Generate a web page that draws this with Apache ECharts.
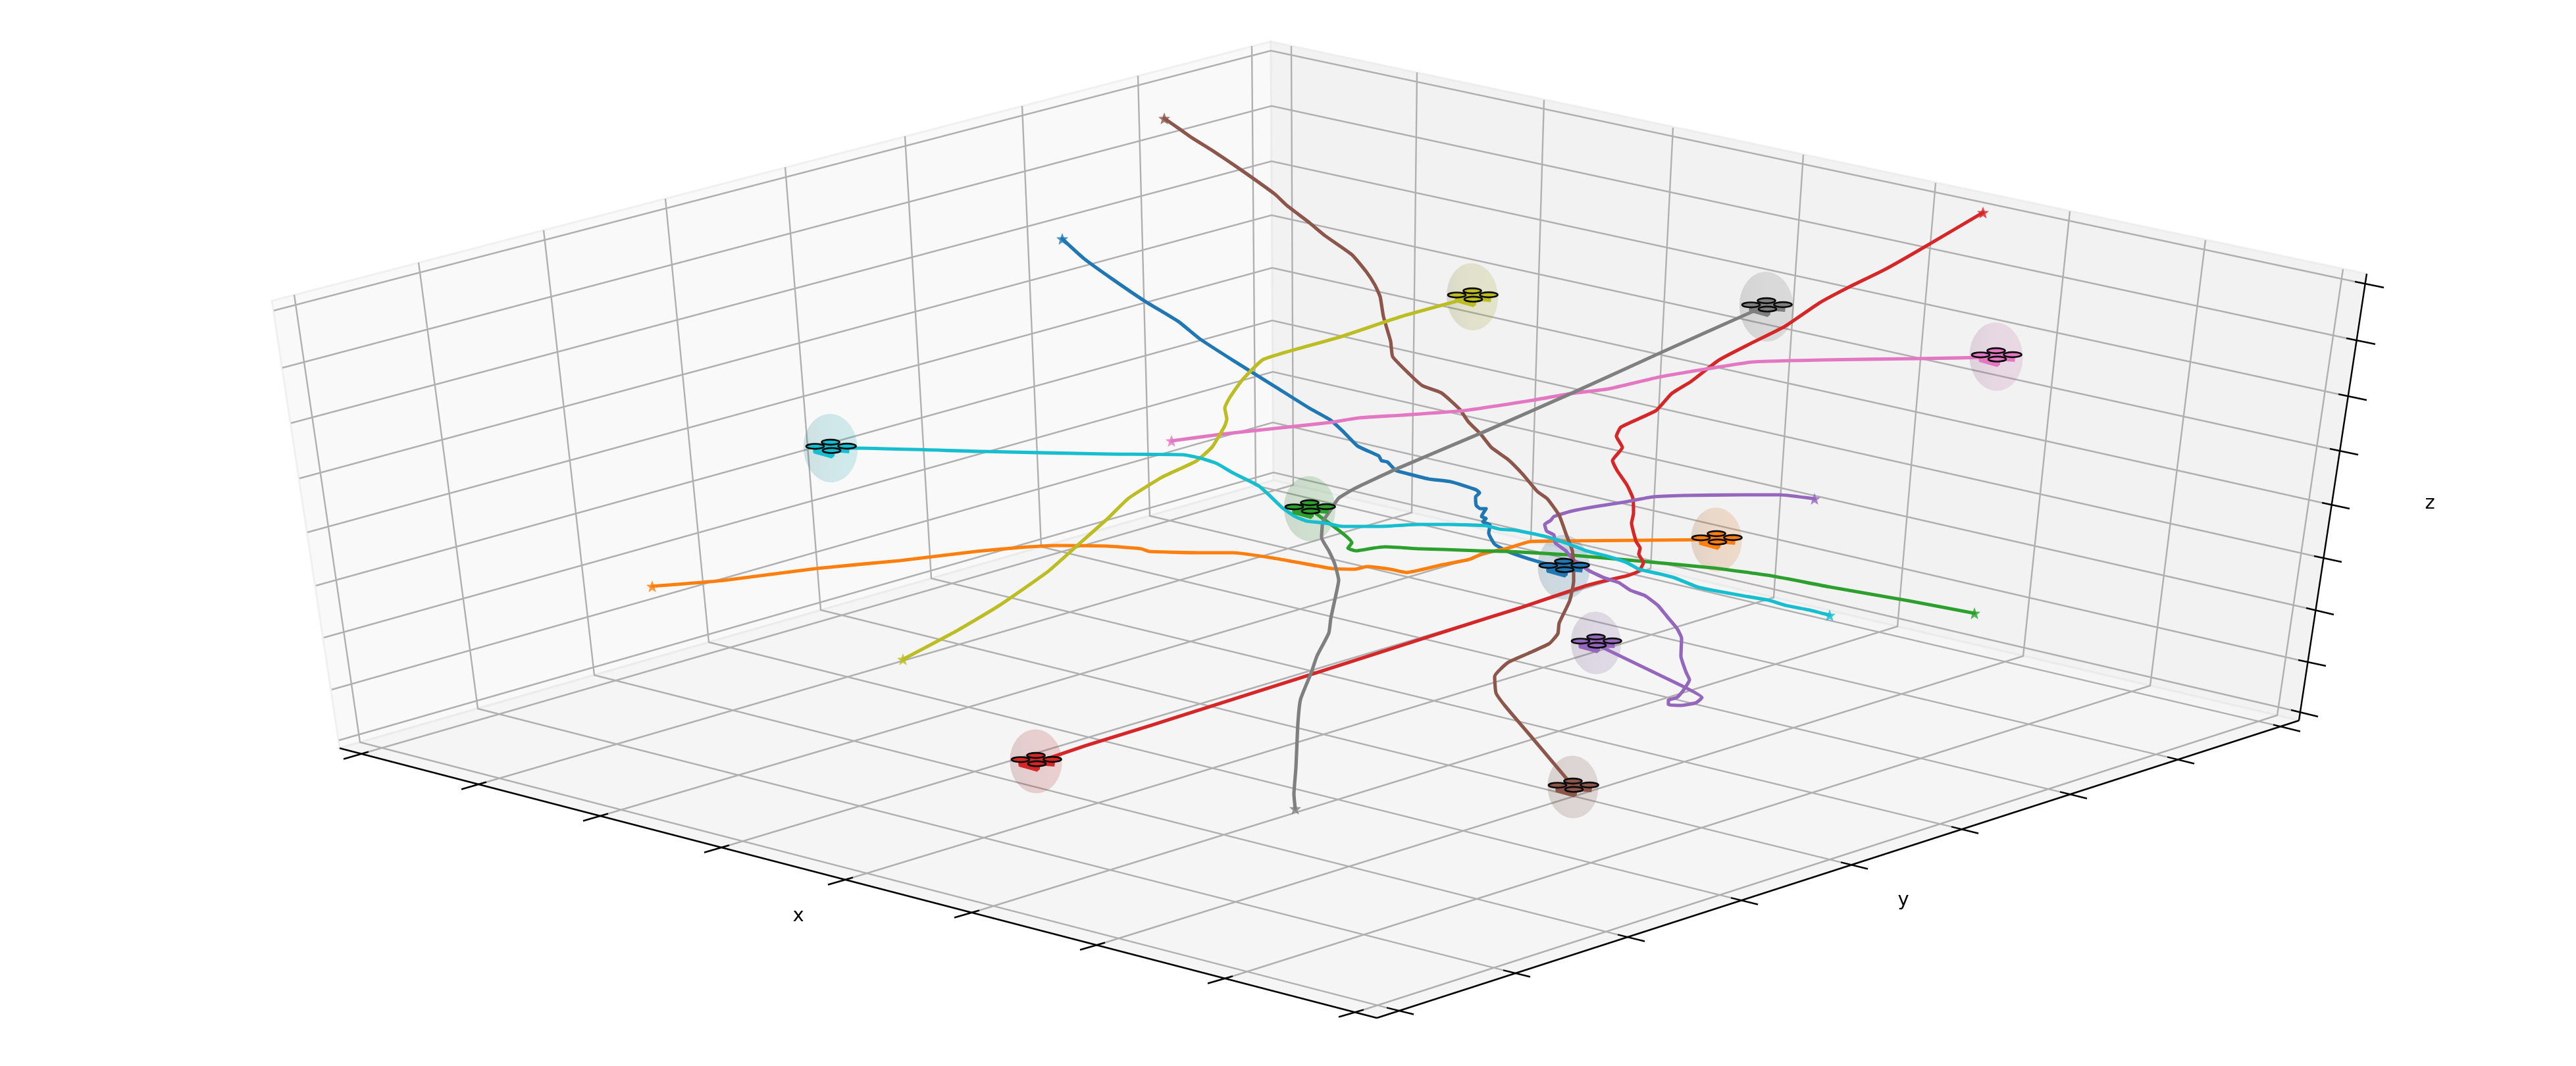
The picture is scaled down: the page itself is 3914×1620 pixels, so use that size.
<!DOCTYPE html>
<html><head><meta charset="utf-8">
<style>html,body{margin:0;padding:0;background:#fff}#c{width:3914px;height:1620px}</style>
<script src="https://cdn.jsdelivr.net/npm/echarts@6/dist/echarts.min.js"></script>
</head><body><div id="c"></div>
<script>
// Screen-space values (the 3D view is already projected).
const paneLeft=[[516,1137],[413,457],[1931,63],[1935,730]];
const paneRight=[[1935,730],[1931,63],[3596,416],[3493,1095]];
const paneFloor=[[516,1137],[1935,730],[3493,1095],[2092,1547]];
const axisX=[[516,1137],[2092,1547]];
const axisY=[[2092,1547],[3493,1095]];
const axisZ=[[3493,1095],[3596,416]];

const zLeftEnd=[[416,472],[429,559],[442,643],[455,727],[467,809],[480,890],[492,969],[504,1048],[515,1125]];
const zBack=[[1931,77],[1932,161],[1932,245],[1932,327],[1933,407],[1933,487],[1934,565],[1934,642],[1935,718]];
const zRightEnd=[[3578,428],[3565,514],[3553,599],[3540,682],[3528,764],[3516,845],[3504,924],[3492,1003],[3481,1079]];
const zTickOuter=[[3622,437],[3609,523],[3596,608],[3583,691],[3570,773],[3558,854],[3546,934],[3534,1012],[3522,1089]];

const leftWallTopX=[447,636,826,1011,1193,1375,1553,1729,1902];
const leftWallTopY=[448,399,350,302,254,207,161,115,70];
const leftWallBaseX=[547,726,903,1077,1247,1415,1582,1747,1908];
const leftWallBaseY=[1128,1077,1026,976,927,879,831,784,738];
const rightWallTopX=[1962,2153,2346,2542,2740,2941,3145,3351,3560];
const rightWallTopY=[70,110,152,194,235,278,321,365,409];
const rightWallBaseX=[1965,2145,2326,2508,2695,2883,3074,3267,3460];
const rightWallBaseY=[737,779,822,864,908,952,997,1042,1087];

const xTicks=[[548,1146],[727,1192],[912,1240],[1096,1288],[1284,1337],[1476,1387],[1667,1436],[1861,1487],[2060,1538]];
const yTicks=[[2122,1535],[2299,1478],[2473,1424],[2645,1368],[2812,1314],[2980,1260],[3145,1207],[3308,1154],[3469,1105]];

const colors=['#1f77b4','#ff7f0e','#2ca02c','#d62728','#9467bd','#8c564b','#e377c2','#7f7f7f','#bcbd22','#17becf'];

const pathBlue=[[1614,363],[1647,393],[1690,424],[1740,458],[1791,489],[1823,515],[1874,548],[1938,588],[1989,620],[2021,638],[2040,655],[2063,678],[2095,693],[2099,700],[2108,702],[2121,715],[2139,720],[2171,728],[2204,732],[2242,744],[2248,749],[2242,755],[2243,768],[2249,773],[2258,773],[2251,785],[2258,788],[2253,793],[2264,798],[2262,810],[2271,827],[2291,838],[2322,849],[2354,858],[2376,862]];
const pathOrange=[[991,891],[1100,882],[1240,864],[1367,852],[1483,838],[1550,832],[1606,829],[1683,830],[1734,834],[1746,838],[1829,840],[1874,840],[1934,848],[2001,860],[2023,864],[2059,865],[2077,861],[2112,865],[2137,870],[2188,859],[2233,850],[2251,842],[2291,833],[2325,823],[2380,822],[2500,821],[2608,820]];
const pathGreen=[[3000,932],[2900,913],[2780,892],[2691,875],[2602,863],[2495,853],[2380,843],[2291,838],[2246,837],[2193,835],[2157,834],[2104,831],[2086,833],[2061,837],[2048,833],[2054,825],[1999,780],[1990,773]];
const pathRed=[[3013,323],[2923,376],[2865,409],[2808,437],[2765,460],[2712,496],[2660,522],[2612,547],[2569,580],[2540,598],[2516,624],[2463,649],[2456,663],[2465,680],[2450,700],[2457,715],[2472,737],[2481,757],[2482,780],[2479,795],[2486,823],[2492,833],[2490,842],[2497,855],[2490,868],[2472,875],[2437,883],[2410,890],[2356,908],[2312,923],[2267,937],[2157,972],[1992,1025],[1800,1086],[1750,1102],[1650,1133],[1597,1151],[1574,1158]];
const pathPurple=[[2757,758],[2704,752],[2646,752],[2557,753],[2512,755],[2468,763],[2423,770],[2387,777],[2361,785],[2356,791],[2347,797],[2350,807],[2361,813],[2363,825],[2379,837],[2390,850],[2414,867],[2437,878],[2459,885],[2477,897],[2499,905],[2519,920],[2533,937],[2548,955],[2555,970],[2554,997],[2562,1022],[2567,1033],[2557,1050],[2548,1060],[2535,1064],[2535,1071],[2553,1072],[2577,1068],[2586,1060],[2557,1043],[2437,985],[2425,977]];
const pathBrown=[[1769,180],[1795,198],[1812,210],[1844,230],[1884,257],[1937,295],[1955,312],[1989,338],[2013,358],[2054,387],[2076,413],[2089,433],[2097,451],[2102,481],[2113,519],[2116,542],[2142,569],[2161,586],[2190,597],[2218,622],[2231,641],[2250,660],[2266,680],[2291,698],[2313,720],[2336,747],[2351,758],[2369,783],[2380,813],[2389,837],[2391,863],[2391,883],[2385,913],[2369,947],[2367,963],[2354,978],[2322,993],[2291,1007],[2271,1028],[2273,1053],[2287,1073],[2327,1120],[2380,1183],[2390,1196]];
const pathPink=[[1780,670],[1855,660],[1938,651],[2021,642],[2065,635],[2129,631],[2224,624],[2330,608],[2387,598],[2444,591],[2521,573],[2597,560],[2664,550],[2770,547],[2913,545],[3018,543],[3033,542]];
const pathGray=[[1968,1229],[1966,1207],[1969,1167],[1972,1100],[1976,1063],[1992,1023],[2001,997],[2019,962],[2022,940],[2030,903],[2034,882],[2028,857],[2019,837],[2008,817],[2010,793],[2023,773],[2034,757],[2059,742],[2121,713],[2253,657],[2387,598],[2521,537],[2664,473],[2684,466]];
const pathOlive=[[1372,1002],[1453,959],[1517,921],[1593,868],[1638,828],[1683,788],[1715,757],[1766,725],[1817,701],[1842,679],[1861,647],[1864,637],[1861,620],[1868,605],[1887,578],[1920,546],[2033,513],[2129,481],[2212,458],[2237,451]];
const pathCyan=[[2780,935],[2749,927],[2713,920],[2687,912],[2646,905],[2602,897],[2579,892],[2544,878],[2521,872],[2490,865],[2472,855],[2441,845],[2410,837],[2379,825],[2347,815],[2303,806],[2278,804],[2258,799],[2199,797],[2155,797],[2097,800],[2040,800],[2014,795],[1986,792],[1970,786],[1950,773],[1928,752],[1912,738],[1874,719],[1848,704],[1823,696],[1797,691],[1683,690],[1491,686],[1300,681],[1262,681]];
const allPaths=[pathBlue,pathOrange,pathGreen,pathRed,pathPurple,pathBrown,pathPink,pathGray,pathOlive,pathCyan];

const droneCenters=[[2376,862],[2608,820],[1990,773],[1574,1157],[2425,977],[2390,1196],[3033,542],[2684,466],[2237,451],[1262,681]];
const sphereRx=[39.5,38.5,39,39.5,38,38.5,40.5,41,39,41];
const sphereRy=[49,48.5,49.5,48.5,47.5,47.5,52,53,51,52];
const rotorOffsets=[[-23.5,-2.7],[0,-9],[25,-3],[1.5,3.7]];
const bodyOutline=[[-27,3],[-26,8],[1.7,15.7],[6,12],[6,7],[16,7],[28,8],[29,2],[9,-7],[-11,-7]];
const axisLabels=[['x',1213,1392],['y',2892,1368],['z',3692,765]];

const shade=(hex,s,a)=>{const n=parseInt(hex.slice(1),16);return `rgba(${Math.round((n>>16&255)*s)},${Math.round((n>>8&255)*s)},${Math.round((n&255)*s)},${a})`;};
const STAR='path://M0,-10L2.6,-3.4L9.5,-3.1L4.1,1.3L5.9,8.1L0,4.3L-5.9,8.1L-4.1,1.3L-9.5,-3.1L-2.6,-3.4Z';

function polyPane(pts,fill,z){
  return {type:'custom',coordinateSystem:'cartesian2d',silent:true,z:z,clip:false,data:[0],
    renderItem:(p,api)=>({type:'polygon',shape:{points:pts.map(q=>api.coord(q))},
      style:{fill:fill,stroke:'rgba(229,229,229,0.5)',lineWidth:3}})};
}
function polylines(list,color,width,z){
  return {type:'custom',coordinateSystem:'cartesian2d',silent:true,z:z,clip:false,
    data:list.map((_,i)=>i),
    renderItem:(p,api)=>({type:'polyline',shape:{points:list[p.dataIndex].map(q=>api.coord(q))},
      style:{stroke:color,lineWidth:width,fill:null,lineJoin:'miter'}})};
}
const zGrid=zLeftEnd.map((_,i)=>[zLeftEnd[i],zBack[i],zRightEnd[i]]);
const xGrid=xTicks.map((t,i)=>[[t[0]+12,t[1]-3.5],[rightWallBaseX[i],rightWallBaseY[i]],[rightWallTopX[i],rightWallTopY[i]]]);
const yGrid=yTicks.map((t,i)=>[[t[0]-15,t[1]-3.7],[leftWallBaseX[i],leftWallBaseY[i]],[leftWallTopX[i],leftWallTopY[i]]]);
const tickSegs=[
  ...zRightEnd.map((s,i)=>[s,zTickOuter[i]]),
  ...xTicks.map(t=>[[t[0]+12,t[1]-3.5],[t[0]-26,t[1]+7.5]]),
  ...yTicks.map(t=>[[t[0]-15,t[1]-3.7],[t[0]+26,t[1]+6.5]])
];

const series=[
  polyPane(paneLeft,'#f9f9f9',1),
  polyPane(paneRight,'#f2f2f2',1),
  polyPane(paneFloor,'#f5f5f5',1),
  polylines([...zGrid,...xGrid,...yGrid],'#b0b0b0',2.4,2),
  polylines([axisX,axisY,axisZ,...tickSegs],'#000000',2.4,3),
  {type:'custom',coordinateSystem:'cartesian2d',silent:true,z:4,clip:false,
    data:droneCenters.map((c,i)=>[c[0],c[1],i]),
    renderItem:(p,api)=>{
      const i=api.value(2),c=api.coord([api.value(0),api.value(1)]),col=colors[i];
      return {type:'ellipse',shape:{cx:0,cy:0,rx:sphereRx[i],ry:sphereRy[i]},
        x:c[0],y:c[1],rotation:0.05,
        style:{fill:new echarts.graphic.LinearGradient(0,0,1,0,[
          {offset:0,color:shade(col,0.55,0.18)},{offset:0.45,color:shade(col,0.78,0.18)},{offset:1,color:shade(col,0.86,0.18)}])}};
    }},
  ...allPaths.map((d,i)=>({type:'line',data:d,showSymbol:false,silent:true,z:5,animation:false,clip:false,smooth:0.15,
    lineStyle:{color:colors[i],width:5.2,cap:'round',join:'round'}})),
  {type:'scatter',silent:true,z:5,clip:false,symbol:STAR,symbolSize:18,
    data:allPaths.map((d,i)=>({value:d[0],itemStyle:{color:colors[i]}}))},
  {type:'custom',coordinateSystem:'cartesian2d',silent:true,z:6,clip:false,
    data:droneCenters.map((c,i)=>[c[0],c[1],i]),
    renderItem:(p,api)=>{
      const i=api.value(2),c=api.coord([api.value(0),api.value(1)]),col=colors[i];
      const kids=[{type:'polygon',shape:{points:bodyOutline.map(o=>[o[0],o[1]])},style:{fill:col}}];
      rotorOffsets.forEach(o=>kids.push({type:'ellipse',shape:{cx:o[0],cy:o[1],rx:13.5,ry:3.8},
        style:{fill:col,stroke:'#0a0a0a',lineWidth:2.7}}));
      return {type:'group',x:c[0],y:c[1],children:kids};
    }},
  {type:'custom',coordinateSystem:'cartesian2d',silent:true,z:7,clip:false,
    data:axisLabels.map(a=>[a[1],a[2]]),
    renderItem:(p,api)=>{
      const c=api.coord([api.value(0),api.value(1)]);
      return {type:'text',x:c[0],y:c[1],style:{text:axisLabels[p.dataIndex][0],x:0,y:0,
        fontFamily:'DejaVu Sans',fontSize:29,fill:'#000',align:'center',verticalAlign:'middle'}};
    }}
];

const chart=echarts.init(document.getElementById('c'),null,{renderer:'canvas',width:3914,height:1620});
chart.setOption({
  animation:false,backgroundColor:'#ffffff',
  grid:{left:0,right:0,top:0,bottom:0},
  xAxis:{type:'value',min:0,max:3914,show:false},
  yAxis:{type:'value',min:0,max:1620,inverse:true,show:false},
  series:series
});
</script></body></html>
